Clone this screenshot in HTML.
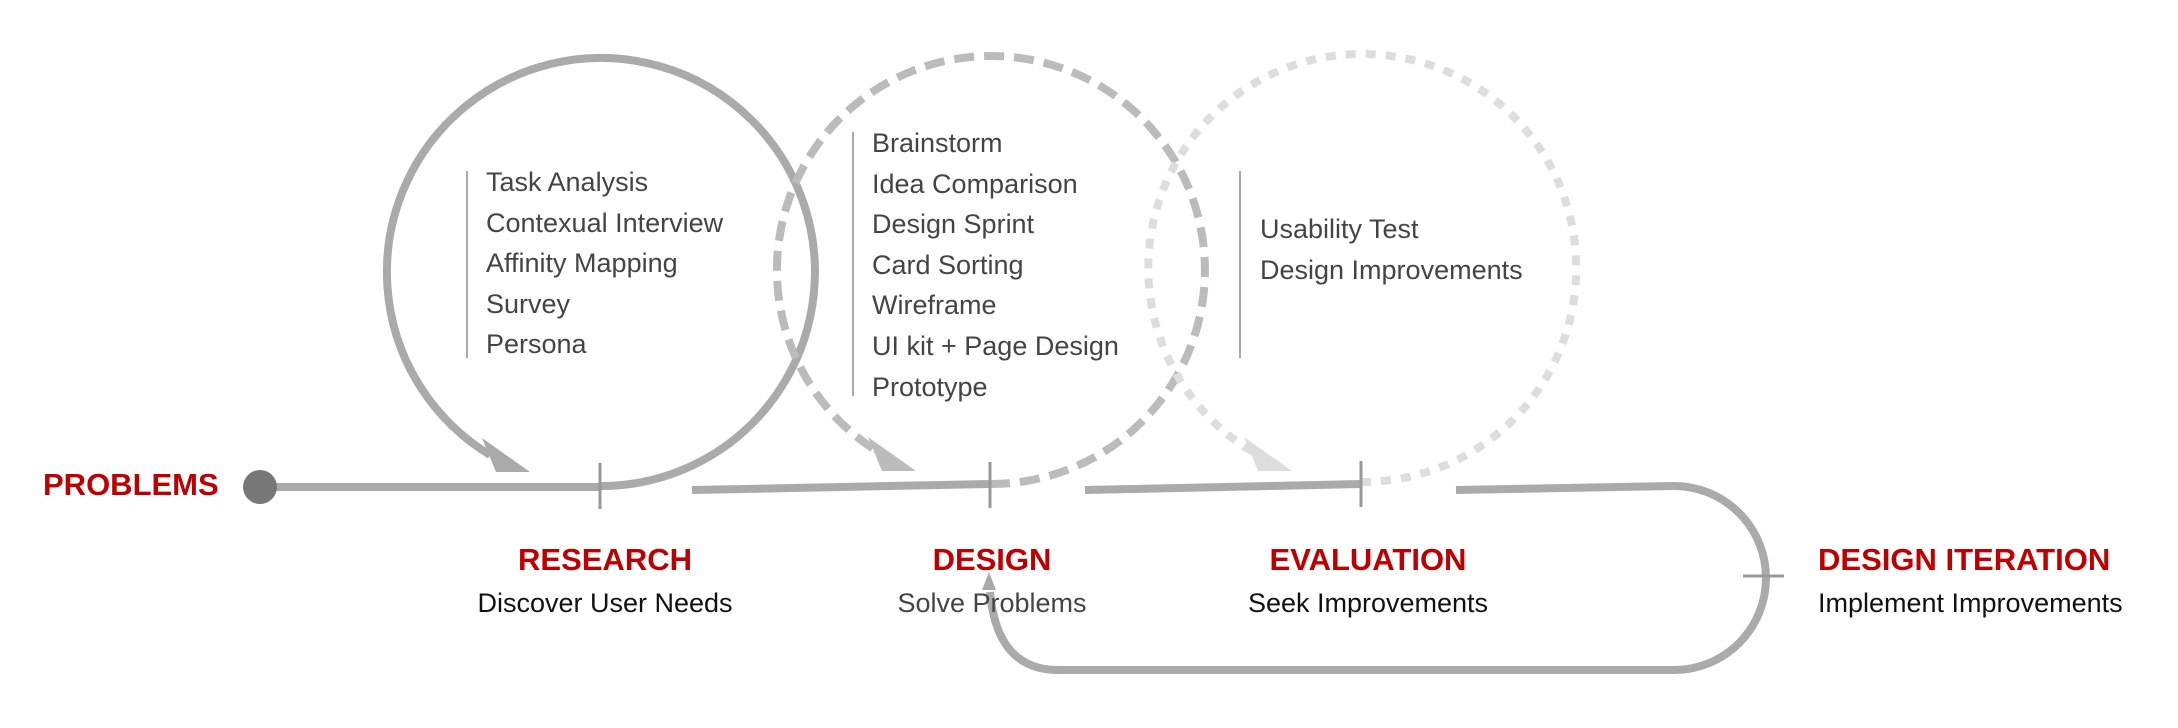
<!DOCTYPE html>
<html><head><meta charset="utf-8"><style>
html,body{margin:0;padding:0;background:#fff;}
body{width:2178px;height:728px;position:relative;overflow:hidden;font-family:"Liberation Sans",sans-serif;}
.t{position:absolute;white-space:nowrap;}
.h{color:#c00000;font-weight:bold;font-size:31px;}
.s{color:#111;font-size:27px;}
.l{color:#444;font-size:27px;line-height:40.6px;}
.c{transform:translateX(-50%);}
</style></head><body>
<svg width="2178" height="728" style="position:absolute;left:0;top:0">
<g fill="none" stroke-width="8" stroke-linecap="butt">
<path d="M600,486 A214,214 0 1 0 490,455" stroke="#aaa"/>
<path d="M990,484 A214,214 0 1 0 880,453" stroke="#bbb" stroke-dasharray="20 10"/>
<path d="M1361,482 A214,214 0 1 0 1253,452" stroke="#ddd" stroke-dasharray="10 10"/>
<path d="M260,487 L600,487" stroke="#aaa"/>
<path d="M692,490 L990,484" stroke="#aaa"/>
<path d="M1085,490 L1361,484" stroke="#aaa"/>
<path d="M1456,490 L1674,486 A92,92 0 0 1 1766,578 A92,92 0 0 1 1674,670 L1058,670 Q997,670 990,592" stroke="#aaa"/>
</g>
<polygon points="530,472 482,438 496,472" fill="#aaa"/>
<polygon points="916,471 868,437 882,471" fill="#bbb"/>
<polygon points="1292,471 1244,437 1258,471" fill="#ddd"/>
<polygon points="989,572 982,590 996,590" fill="#aaa"/>
<circle cx="260" cy="487" r="17" fill="#777"/>
<g stroke="#999" stroke-width="3">
<line x1="600" y1="463" x2="600" y2="509"/>
<line x1="990" y1="462" x2="990" y2="508"/>
<line x1="1361" y1="461" x2="1361" y2="507"/>
<line x1="1743" y1="576" x2="1784" y2="576"/>
</g>
<g stroke="#aaa" stroke-width="2">
<line x1="467" y1="171" x2="467" y2="358"/>
<line x1="853" y1="132" x2="853" y2="396"/>
<line x1="1240" y1="171" x2="1240" y2="358"/>
</g>
</svg>
<div class="t h" style="left:43px;top:467px;">PROBLEMS</div>
<div class="t h c" style="left:605px;top:542px;">RESEARCH</div>
<div class="t s c" style="left:605px;top:588px;">Discover User Needs</div>
<div class="t h c" style="left:992px;top:542px;">DESIGN</div>
<div class="t s c" style="left:992px;top:588px;color:#444;">Solve Problems</div>
<div class="t h c" style="left:1368px;top:542px;">EVALUATION</div>
<div class="t s c" style="left:1368px;top:588px;">Seek Improvements</div>
<div class="t h" style="left:1818px;top:542px;">DESIGN ITERATION</div>
<div class="t s" style="left:1818px;top:588px;">Implement Improvements</div>
<div class="t l" style="left:486px;top:162px;">Task Analysis<br>Contexual Interview<br>Affinity Mapping<br>Survey<br>Persona</div>
<div class="t l" style="left:872px;top:123px;">Brainstorm<br>Idea Comparison<br>Design Sprint<br>Card Sorting<br>Wireframe<br>UI kit + Page Design<br>Prototype</div>
<div class="t l" style="left:1260px;top:209px;">Usability Test<br>Design Improvements</div>
</body></html>
